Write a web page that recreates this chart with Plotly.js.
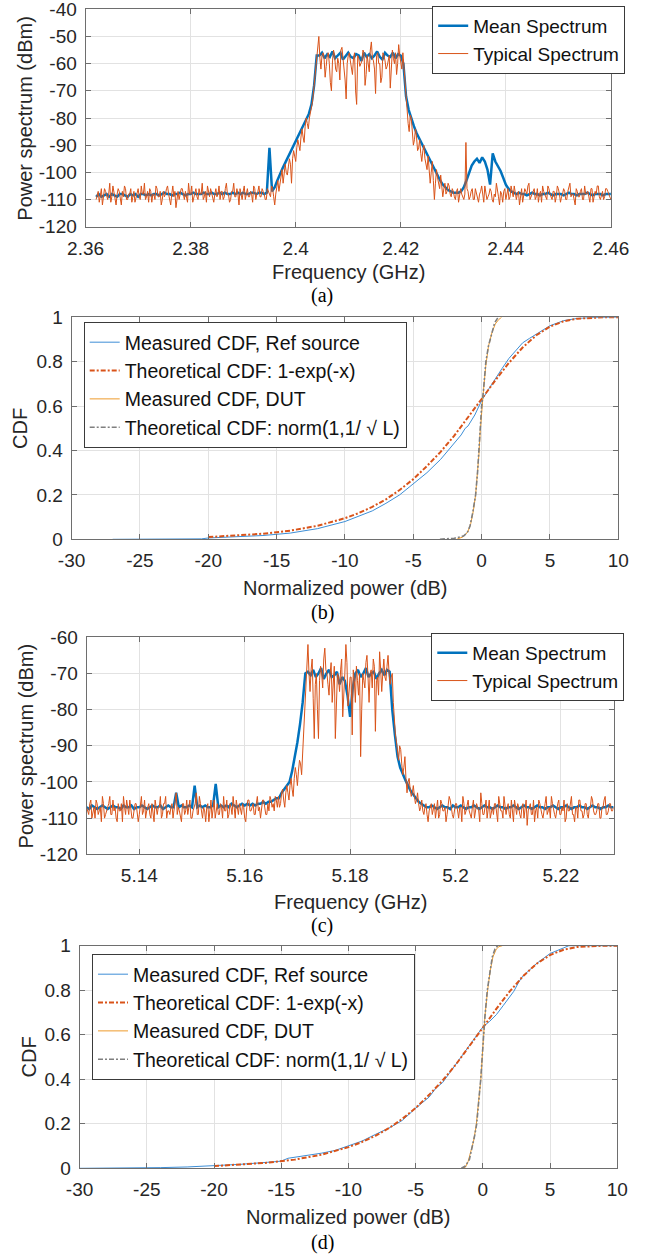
<!DOCTYPE html>
<html><head><meta charset="utf-8">
<script src="https://cdn.plot.ly/plotly-3.0.1.min.js"></script>
<style>html,body{margin:0;padding:0;background:#fff;} #plot{width:647px;height:1255px;}</style>
</head><body><div id="plot"></div>
<script>
// ---------------- DATA ----------------
// Panel (a): 2.4 GHz spectra
const fA_start = 2.362, fA_stepMean = 0.0005, fA_stepTyp = 0.0004;
const meanA = [
-109,-108,-109,-108.5,-108,-109,-108,-108.5,-109,-108,-108,-108.5,-109,-108,-108.5,-108,-109,-108,-108,-108.5,
-108,-108.5,-108,-108,-108.5,-108,-107.5,-108,-108,-108.5,-108,-108,-107.5,-108,-108.5,-108,-108,-107.5,-108,-108,
-108,-107.5,-108,-108,-107.5,-108,-108,-107.5,-108,-107.5,-108,-108,-107.5,-108,-107.5,-108,-107.5,-108,-108,-107.5,
-107.5,-108,-107.5,-107.5,-108,-107.5,
-91,
-107,-105.5,-103,-100.5,-98.5,-96.5,-94.5,-93,-91,-89,-87,-85,-83,-81,-78.5,-75,-68,
-57,-57,
-56,-58,-56.5,-57.5,-55.5,-58,-57,-56,-58.5,-57,-56,-57.5,-58,-56.5,-57,-59,-56,-57.5,-56.5,-58,-57,-55.5,-57.5,-58.5,-56,-57,-57.5,-56,-58,-56.5,-57,
-60,-72,-77,-80.5,-83,-85.5,-87.5,-89.5,-91.5,-93.5,-95.5,-97.5,-99.5,-101.5,-103,-104.5,-105.5,-106.5,-107,-107.5,
-107.5,-107.5,-107,-105.5,-103,-100,-97.5,-96,-95,-96.5,-94.5,-96,-99,-104.5,-93,-96,-97.5,-99.5,-102,-104.5,-106,-107,-107.5,
-108,-107.5,-108,-108,-108.5,-108,-107.5,-108,-108,-108.5,-108,-108,-107.5,-108,-108.5,-108,-108,-108,-108.5,-108,
-107.5,-108,-108,-108.5,-108,-108,-108,-107.5,-108,-108.5,-108,-108,-108,-108.5,-108,-108,-108
];
// typical spectrum, samples on the 0.0004 GHz grid ...
const typA = [
-110,-107,-109,-112,-106,-109,-108,-111,-105,-110,-108,-107,-112,-109,-106,-110,-108,-111,-107,-109,
-106,-110,-108,-104,-109,-111,-107,-108,-110,-106,-109,-112,-107,-108,-105,-110,-108,-109,-113,-107,
-108,-106,-110,-109,-104,-108,-111,-107,-109,-106,-108,-110,-107,-105,-109,-108,-111,-106,-108,-110,
-107,-109,-104,-108,-110,-107,-109,-106,-112,-108,-107,-110,-106,-109,-108,-105,-110,-107,-109,-106,
-108,-110,-107,-109,
-106,-112,-105,-107,-101,-104,-97,-101,-95,-104,-92,-96,-88,-92,-84,-89,-80,-84,-78,-74,-66,-58,-50,-62,
-56,-65,-57,-60,-70,-55,-62,-58,-66,-54,-61,-73,-57,-59,-64,-56,-75,-58,-60,-55,-68,-57,-63,-52,-59,-71,-56,-60,-65,-57,-62,-58,-69,-55,-60,-64,-53,-59,
-56,-66,-78,-85,-80,-90,-84,-92,-88,-96,-90,-97,-94,-104,-96,-110,-99,-104,-101,-109,-104,-107,-105,-109,-107,-110,-106,-109,-108,-110,-89,-107,
-109,-106,-110,-108,-111,-107,-109,-105,-110,-108,-107,-111,-109,-106,-112,-108,-107,-110,-106,-109,
-108,-105,-110,-107,-109,-111,-106,-108,-104,-109,-107,-110,-106,-108,-111,-107,-109,-105,-108,-110,
-107,-109,-106,-111,-108,-107,-110,-105,-109,-108,-112,-107,-109,-106,-110,-108,-107,-111,-106,-109,
-108,-105,-110,-107,-109,-106,-108,-110
];
// ... and the samples half-way between them
const typA_mid = [
-108,-111,-106,-109,-107,-110,-104,-109,-108,-112,-106,-109,-107,-105,-110,-108,-106,-109,-111,-107,
-109,-105,-108,-110,-107,-106,-111,-108,-105,-109,-107,-110,-109,-106,-108,-112,-105,-107,-109,-110,
-106,-109,-107,-111,-108,-105,-109,-106,-110,-108,-104,-109,-111,-107,-106,-110,-108,-109,-105,-107,
-110,-106,-108,-111,-107,-104,-109,-108,-106,-110,-105,-108,-109,-107,-111,-106,-108,-105,-109,-107,
-110,-106,-108,-105,
-109,-108,-103,-104,-99,-100,-100,-98,-97,-95,-94,-91,-90,-87,-87,-83,-82,-80,-75,-70,-62,-56,-58,-57,
-58,-61,-56,-67,-59,-57,-63,-60,-55,-58,-66,-60,-56,-62,-58,-70,-57,-61,-59,-56,-64,-60,-55,-58,-62,-57,-60,-67,-56,-59,-61,-57,-63,-58,-56,-60,-57,-62,
-62,-73,-82,-79,-86,-88,-87,-91,-93,-92,-95,-99,-98,-100,-103,-104,-102,-106,-104,-106,-108,-104,-108,-106,-109,-107,-111,-106,-109,-108,-106,-110,
-107,-110,-106,-109,-108,-105,-111,-107,-109,-106,-110,-108,-104,-109,-107,-111,-106,-108,-110,-105,
-109,-107,-108,-112,-106,-109,-107,-105,-110,-108,-106,-109,-111,-107,-105,-108,-110,-106,-109,-107,
-111,-105,-108,-109,-106,-110,-107,-104,-108,-111,-106,-109,-107,-110,-105,-108,-109,-106,-111,-107,
-105,-109,-108,-110,-106,-107,-109
];

// Panel (c): 5.18 GHz spectra
const fC_start = 5.13, fC_stepMean = 0.0005, fC_stepTyp = 0.0004;
const meanC = [
-107,-107.5,-106.5,-107,-107.5,-107,-106.5,-107,-107.5,-107,-106.5,-107,-107,-107.5,-106.5,-107,-107,-106.5,-107.5,-107,
-107,-106.5,-107,-107.5,-107,-106.5,-107,-107,-106.5,-107.5,-107,-106.5,-107,-107,-103,-107,-106.5,-107,-107,-106.5,
-107,-101,-107,-106.5,-107,-106.5,-107,-107,-106.5,-100.5,-107,-106.5,-107,-106.5,-107,-106,-106.5,-107,-106.5,-106,
-106.5,-106,-106.5,-106,-106.5,-106,-106,-105.5,-106,-105.5,-105.5,-105,-104.5,
-104.5,-103,-102,-101,-100,-97,-93.5,-89,-84,-78,-70,-69.5,
-70.5,-69,-71,-70,-68.5,-71.5,-70,-69,-71,-70.5,-69.5,-73,-71,-72,-76,-82,-74,-70,-69,-71,-70,-68.5,-71,-70,-69.5,-71.5,-70,-69,-70.5,-69,
-69.5,-80,-87,-93,-96,-98,-99.5,-101,-102.5,-103.5,-104.5,-105.5,-106,-106.5,-107,
-107,-106.5,-107,-107.5,-107,-106.5,-107,-107,-107.5,-106.5,-107,-107,-106.5,-107,-107.5,-107,-107,-106.5,-107,-107.5,
-107,-106.5,-107,-107,-107.5,-107,-106.5,-107,-107,-107.5,-107,-107,-106.5,-107,-107.5,-107,-106.5,-107,-107,-107.5,
-107,-106.5,-107,-107,-107.5,-107,-107,-106.5,-107,-107.5,-107,-107,-106.5,-107,-107.5,-107,-107,-106.5,-107,-107,
-107.5,-107,-106.5,-107,-107,-107.5,-107,-107,-106.5,-107,-107
];
const typC = [
-107,-109,-105,-108,-110,-106,-108,-111,-106,-109,-107,-104,-109,-108,-110,-106,-108,-111,-107,-105,
-109,-107,-110,-106,-108,-109,-104,-108,-110,-107,-109,-106,-111,-108,-107,-104,-109,-106,-110,-108,
-107,-110,-105,-109,-108,-111,-106,-108,-109,-105,-110,-107,-103,-109,-106,-110,-108,-107,-111,-105,
-108,-110,-106,-109,-107,-104,-108,-110,-106,-109,-107,-105,-109,-108,-106,-110,-107,-105,-108,-106,
-109,-104,-107,-108,-105,-109,-106,-104,-107,-108,-105,
-104,-106,-102,-107,-101,-105,-99,-104,-96,-101,-94,-98,-86,-72,-62,-75,-66,-88,-70,
-88,-68,-74,-63,-70,-76,-67,-72,-88,-70,-75,-66,-73,-62,-79,-71,-87,-72,-68,-76,-93,-70,-74,-65,-78,-69,-66,-86,-71,-64,-75,-66,-72,-65,
-73,-70,-85,-89,-94,-91,-98,-93,-103,-99,-104,-101,-106,-103,-108,-105,-109,-106,-111,-107,
-109,-106,-108,-110,-105,-108,-107,-109,-104,-108,-110,-106,-109,-107,-111,-106,-108,-105,-109,-107,
-110,-106,-108,-103,-109,-107,-110,-105,-108,-109,-106,-111,-107,-108,-104,-109,-106,-110,-108,-105,
-109,-107,-110,-106,-108,-112,-107,-109,-105,-108,-110,-106,-109,-107,-104,-108,-110,-106,-109,-107,
-105,-109,-108,-111,-106,-108,-104,-109,-107,-110,-105,-108,-109,-106,-110,-107,-105,-109,-108,-106,
-110,-107,-104,-109,-106,-108,-107
];
const typC_mid = [
-108,-106,-110,-107,-105,-109,-107,-104,-110,-108,-106,-109,-105,-107,-111,-108,-106,-104,-109,-107,
-105,-110,-108,-106,-111,-107,-109,-105,-108,-106,-110,-108,-105,-109,-107,-110,-106,-104,-108,-109,
-106,-108,-103,-107,-110,-106,-109,-105,-107,-110,-108,-106,-109,-104,-108,-107,-111,-106,-108,-110,
-105,-107,-109,-106,-110,-108,-105,-109,-107,-104,-110,-108,-106,-109,-107,-111,-105,-108,-107,-109,
-106,-108,-110,-105,-107,-109,-108,-105,-106,-104,-107,
-107,-103,-105,-103,-103,-101,-102,-99,-98,-97,-95,-92,-80,-67,-70,-69,-77,-73,-80,
-72,-70,-66,-69,-73,-70,-78,-68,-75,-71,-69,-82,-70,-67,-74,-71,-69,-78,-72,-70,-80,-72,-67,-71,-70,-74,-68,-72,-76,-69,-70,-71,-68,-70,
-71,-78,-87,-92,-90,-95,-96,-99,-100,-102,-103,-104,-105,-106,-107,-108,-107,-109,-108,-106,
-107,-110,-105,-109,-106,-108,-111,-107,-105,-109,-108,-106,-110,-107,-104,-109,-106,-108,-110,-105,
-108,-107,-111,-106,-109,-105,-108,-110,-107,-106,-109,-104,-108,-110,-106,-107,-109,-105,-111,-108,
-106,-109,-107,-110,-105,-108,-106,-109,-111,-107,-105,-108,-110,-106,-109,-107,-104,-108,-110,-106,
-109,-107,-105,-110,-108,-106,-109,-111,-107,-105,-108,-110,-106,-109,-107,-104,-108,-109,-106,-110,
-107,-105,-109,-108,-106,-108
];

// Panel (b): CDFs, 2.4 GHz
const refB_x = [-27,-20.5,-20,-18,-16,-14,-12,-10,-8,-7,-6,-5.3,-5,-4,-3,-2,-1.5,-1.2,-1,-0.5,0,0.5,1,1.5,2,2.5,3,3.5,4,5,6,7,8,10];
const refB_y = [0,0.002,0.006,0.01,0.017,0.028,0.048,0.08,0.128,0.162,0.2,0.235,0.25,0.3,0.36,0.43,0.47,0.5,0.51,0.56,0.625,0.675,0.725,0.77,0.815,0.85,0.885,0.905,0.925,0.962,0.985,0.995,0.999,1.0];
const theoExp_x = [-20,-18,-16,-14,-12,-10,-9,-8,-7,-6,-5,-4,-3,-2,-1,0,1,2,3,4,5,6,7,8,9,10];
const theoExpB_y = [0.01,0.016,0.025,0.039,0.061,0.095,0.118,0.146,0.18,0.222,0.271,0.33,0.394,0.467,0.547,0.632,0.716,0.795,0.864,0.919,0.958,0.982,0.994,0.998,1.0,1.0];
const dutB_x = [-1.83,-1.6,-1.4,-1.2,-1.0,-0.8,-0.6,-0.44,-0.3,-0.2,-0.1,0.0,0.12,0.3,0.5,0.75,1.0,1.25,1.46];
const dutB_y = [0,0.004,0.01,0.02,0.035,0.07,0.13,0.2,0.29,0.38,0.49,0.59,0.66,0.78,0.87,0.93,0.97,0.99,1.0];
const normB_x = [-3.05,-2.5,-2.0,-1.6,-1.3,-1.05,-0.85,-0.65,-0.44,-0.3,-0.2,-0.1,0.0,0.12,0.31,0.5,0.73,0.95,1.21];
const normB_y = [0,0.002,0.005,0.01,0.016,0.03,0.06,0.12,0.2,0.3,0.4,0.5,0.6,0.66,0.8,0.87,0.93,0.975,1.0];

// Panel (d): CDFs, 5.18 GHz
const refD_x = [-30,-27,-24,-22,-20,-18,-16,-15,-14.5,-13,-12,-11,-10,-9,-8,-7,-6,-5,-4,-3.5,-3,-2,-1,0,0.5,1,1.5,2,2.3,2.7,3,4,5,6,6.4,10];
const refD_y = [0,0.001,0.003,0.006,0.011,0.018,0.027,0.032,0.045,0.058,0.068,0.08,0.1,0.122,0.152,0.18,0.215,0.27,0.32,0.36,0.385,0.47,0.55,0.635,0.66,0.69,0.73,0.77,0.795,0.84,0.865,0.92,0.965,0.99,1.0,1.0];
const theoExpD_y = [0.01,0.016,0.025,0.039,0.061,0.095,0.118,0.146,0.18,0.222,0.271,0.33,0.394,0.467,0.547,0.632,0.716,0.795,0.864,0.919,0.958,0.982,0.994,0.998,1.0,1.0];
const dutD_x = [-1.5,-1.3,-1.1,-0.9,-0.7,-0.5,-0.3,-0.15,-0.05,0.05,0.15,0.35,0.55,0.75,1.0,1.2,1.45];
const dutD_y = [0,0.005,0.03,0.07,0.12,0.19,0.3,0.4,0.5,0.6,0.68,0.8,0.89,0.95,0.985,0.996,1.0];
const normD_x = [-1.6,-1.3,-1.0,-0.8,-0.6,-0.46,-0.3,-0.16,-0.05,0.03,0.15,0.33,0.5,0.7,0.9,1.1];
const normD_y = [0,0.01,0.04,0.09,0.15,0.2,0.3,0.4,0.5,0.6,0.68,0.8,0.88,0.95,0.985,1.0];

// Tick labels
const tickA_vals = [2.36,2.38,2.40,2.42,2.44,2.46];
const tickA_text = ['2.36','2.38','2.4','2.42','2.44','2.46'];
const tickC_vals = [5.14,5.16,5.18,5.20,5.22];
const tickC_text = ['5.14','5.16','5.18','5.2','5.22'];
const tickSpecY_vals = [-120,-110,-100,-90,-80,-70,-60,-50,-40];
const tickSpecY_text = ['-120','-110','-100','-90','-80','-70','-60','-50','-40'];
const tickCdfX_vals = [-30,-25,-20,-15,-10,-5,0,5,10];
const tickCdfX_text = ['-30','-25','-20','-15','-10','-5','0','5','10'];
const tickCdfY_vals = [0,0.2,0.4,0.6,0.8,1];
const tickCdfY_text = ['0','0.2','0.4','0.6','0.8','1'];

// ---------------- BUILD ----------------
const W = 647, H = 1255;
const FONT = 'Liberation Sans, Arial, Helvetica, sans-serif';
const SERIF = 'Liberation Serif, Times New Roman, serif';
const px = v => v / W, py = v => 1 - v / H;
const grid = (start, step, n) => Array.from({length: n}, (_, i) => +(start + step * i).toFixed(6));
function interleave(main, mid) {
  const out = [];
  for (let i = 0; i < main.length; i++) { out.push(main[i]); if (i < mid.length) out.push(mid[i]); }
  return out;
}
const typA_all = interleave(typA, typA_mid);
const typC_all = interleave(typC, typC_mid);

const C_MEAN = '#0072BD', C_TYP = '#D95319', C_REF = '#3D8ED6', C_EXP = '#D95319', C_DUT = '#EE9A2B', C_NORM = '#7F7F7F';

function axis(d0, d1, range, tv, tt, anchor) {
  return {domain: [d0, d1], range: range, tickmode: 'array', tickvals: tv, ticktext: tt, anchor: anchor,
    showgrid: true, gridcolor: '#e2e2e2', gridwidth: 1, zeroline: false, showline: true, linecolor: '#6e6e6e',
    linewidth: 1, mirror: 'ticks', ticks: 'inside', ticklen: 5, tickcolor: '#6e6e6e', tickwidth: 1,
    tickfont: {family: FONT, size: 19, color: '#262626'}, ticklabelstandoff: 4, ticklabeloverflow: 'allow',
    fixedrange: true};
}

const traces = [
  {x: grid(fA_start, fA_stepMean, meanA.length), y: meanA, type: 'scatter', mode: 'lines', name: 'Mean Spectrum',
   line: {color: C_MEAN, width: 2.5}, xaxis: 'x', yaxis: 'y', legend: 'legend'},
  {x: grid(fA_start, fA_stepTyp / 2, typA_all.length), y: typA_all, type: 'scatter', mode: 'lines', name: 'Typical Spectrum',
   line: {color: C_TYP, width: 1}, xaxis: 'x', yaxis: 'y', legend: 'legend'},

  {x: refB_x, y: refB_y, type: 'scatter', mode: 'lines', name: 'Measured CDF, Ref source',
   line: {color: C_REF, width: 1}, xaxis: 'x2', yaxis: 'y2', legend: 'legend2'},
  {x: theoExp_x, y: theoExpB_y, type: 'scatter', mode: 'lines', name: 'Theoretical CDF: 1-exp(-x)',
   line: {color: C_EXP, width: 2, dash: '5px,2px,2px,2px'}, xaxis: 'x2', yaxis: 'y2', legend: 'legend2'},
  {x: dutB_x, y: dutB_y, type: 'scatter', mode: 'lines', name: 'Measured CDF, DUT',
   line: {color: C_DUT, width: 1}, xaxis: 'x2', yaxis: 'y2', legend: 'legend2'},
  {x: normB_x, y: normB_y, type: 'scatter', mode: 'lines', name: 'Theoretical CDF: norm(1,1/ \u221A L)',
   line: {color: C_NORM, width: 1.6, dash: '5px,2px,2px,2px'}, xaxis: 'x2', yaxis: 'y2', legend: 'legend2'},

  {x: grid(fC_start, fC_stepMean, meanC.length), y: meanC, type: 'scatter', mode: 'lines', name: 'Mean Spectrum',
   line: {color: C_MEAN, width: 2.5}, xaxis: 'x3', yaxis: 'y3', legend: 'legend3'},
  {x: grid(fC_start, fC_stepTyp / 2, typC_all.length), y: typC_all, type: 'scatter', mode: 'lines', name: 'Typical Spectrum',
   line: {color: C_TYP, width: 1}, xaxis: 'x3', yaxis: 'y3', legend: 'legend3'},

  {x: refD_x, y: refD_y, type: 'scatter', mode: 'lines', name: 'Measured CDF, Ref source',
   line: {color: C_REF, width: 1}, xaxis: 'x4', yaxis: 'y4', legend: 'legend4'},
  {x: theoExp_x, y: theoExpD_y, type: 'scatter', mode: 'lines', name: 'Theoretical CDF: 1-exp(-x)',
   line: {color: C_EXP, width: 2, dash: '5px,2px,2px,2px'}, xaxis: 'x4', yaxis: 'y4', legend: 'legend4'},
  {x: dutD_x, y: dutD_y, type: 'scatter', mode: 'lines', name: 'Measured CDF, DUT',
   line: {color: C_DUT, width: 1}, xaxis: 'x4', yaxis: 'y4', legend: 'legend4'},
  {x: normD_x, y: normD_y, type: 'scatter', mode: 'lines', name: 'Theoretical CDF: norm(1,1/ \u221A L)',
   line: {color: C_NORM, width: 1.6, dash: '5px,2px,2px,2px'}, xaxis: 'x4', yaxis: 'y4', legend: 'legend4'}
];

function legendBox(x, y, size) {
  return {x: px(x), y: py(y), xanchor: 'left', yanchor: 'top', bgcolor: '#ffffff', bordercolor: '#3a3a3a',
    borderwidth: 1, font: {family: FONT, size: size, color: '#111'}, itemwidth: 30, tracegroupgap: 0,
    itemclick: false, itemdoubleclick: false};
}

function ann(text, x, y, opts) {
  return Object.assign({text: text, x: px(x), y: py(y), xref: 'paper', yref: 'paper', showarrow: false,
    xanchor: 'center', yanchor: 'middle', font: {family: FONT, size: 20, color: '#262626'}}, opts || {});
}

const layout = {
  width: W, height: H, margin: {l: 0, r: 0, t: 0, b: 0}, paper_bgcolor: '#fff', plot_bgcolor: '#fff',
  showlegend: true, hovermode: false,
  xaxis:  axis(px(85.6), px(610.9), [2.36, 2.46], tickA_vals, tickA_text, 'y'),
  yaxis:  axis(py(226.7), py(9.3), [-120, -40], tickSpecY_vals, tickSpecY_text, 'x'),
  xaxis2: axis(px(71.6), px(618.3), [-30, 10], tickCdfX_vals, tickCdfX_text, 'y2'),
  yaxis2: axis(py(539.3), py(317.3), [0, 1], tickCdfY_vals, tickCdfY_text, 'x2'),
  xaxis3: axis(px(86.6), px(613.6), [5.13, 5.23], tickC_vals, tickC_text, 'y3'),
  yaxis3: axis(py(854.3), py(637.3), [-120, -60], tickSpecY_vals, tickSpecY_text, 'x3'),
  xaxis4: axis(px(79.6), px(617.3), [-30, 10], tickCdfX_vals, tickCdfX_text, 'y4'),
  yaxis4: axis(py(1168.3), py(945.7), [0, 1], tickCdfY_vals, tickCdfY_text, 'x4'),
  legend:  legendBox(432.2, 6, 19),
  legend2: legendBox(83.7, 322, 19.5),
  legend3: legendBox(431.3, 633, 19),
  legend4: legendBox(92, 954, 19.5),
  annotations: [
    ann('Power spectrum (dBm)', 24.7, 118, {textangle: -90}),
    ann('Frequency (GHz)', 348.2, 271.7),
    ann('(a)', 322, 295, {font: {family: SERIF, size: 20, color: '#000'}}),
    ann('CDF', 20.6, 428.3, {textangle: -90}),
    ann('Normalized power (dB)', 345, 588.3),
    ann('(b)', 322, 612.7, {font: {family: SERIF, size: 20, color: '#000'}}),
    ann('Power spectrum (dBm)', 25.6, 745.8, {textangle: -90}),
    ann('Frequency (GHz)', 350.1, 901.7),
    ann('(c)', 322, 925, {font: {family: SERIF, size: 20, color: '#000'}}),
    ann('CDF', 28.5, 1057, {textangle: -90}),
    ann('Normalized power (dB)', 348.4, 1217.3),
    ann('(d)', 322, 1242.7, {font: {family: SERIF, size: 20, color: '#000'}})
  ]
};

Plotly.newPlot('plot', traces, layout, {staticPlot: true, displayModeBar: false});
</script></body></html>
